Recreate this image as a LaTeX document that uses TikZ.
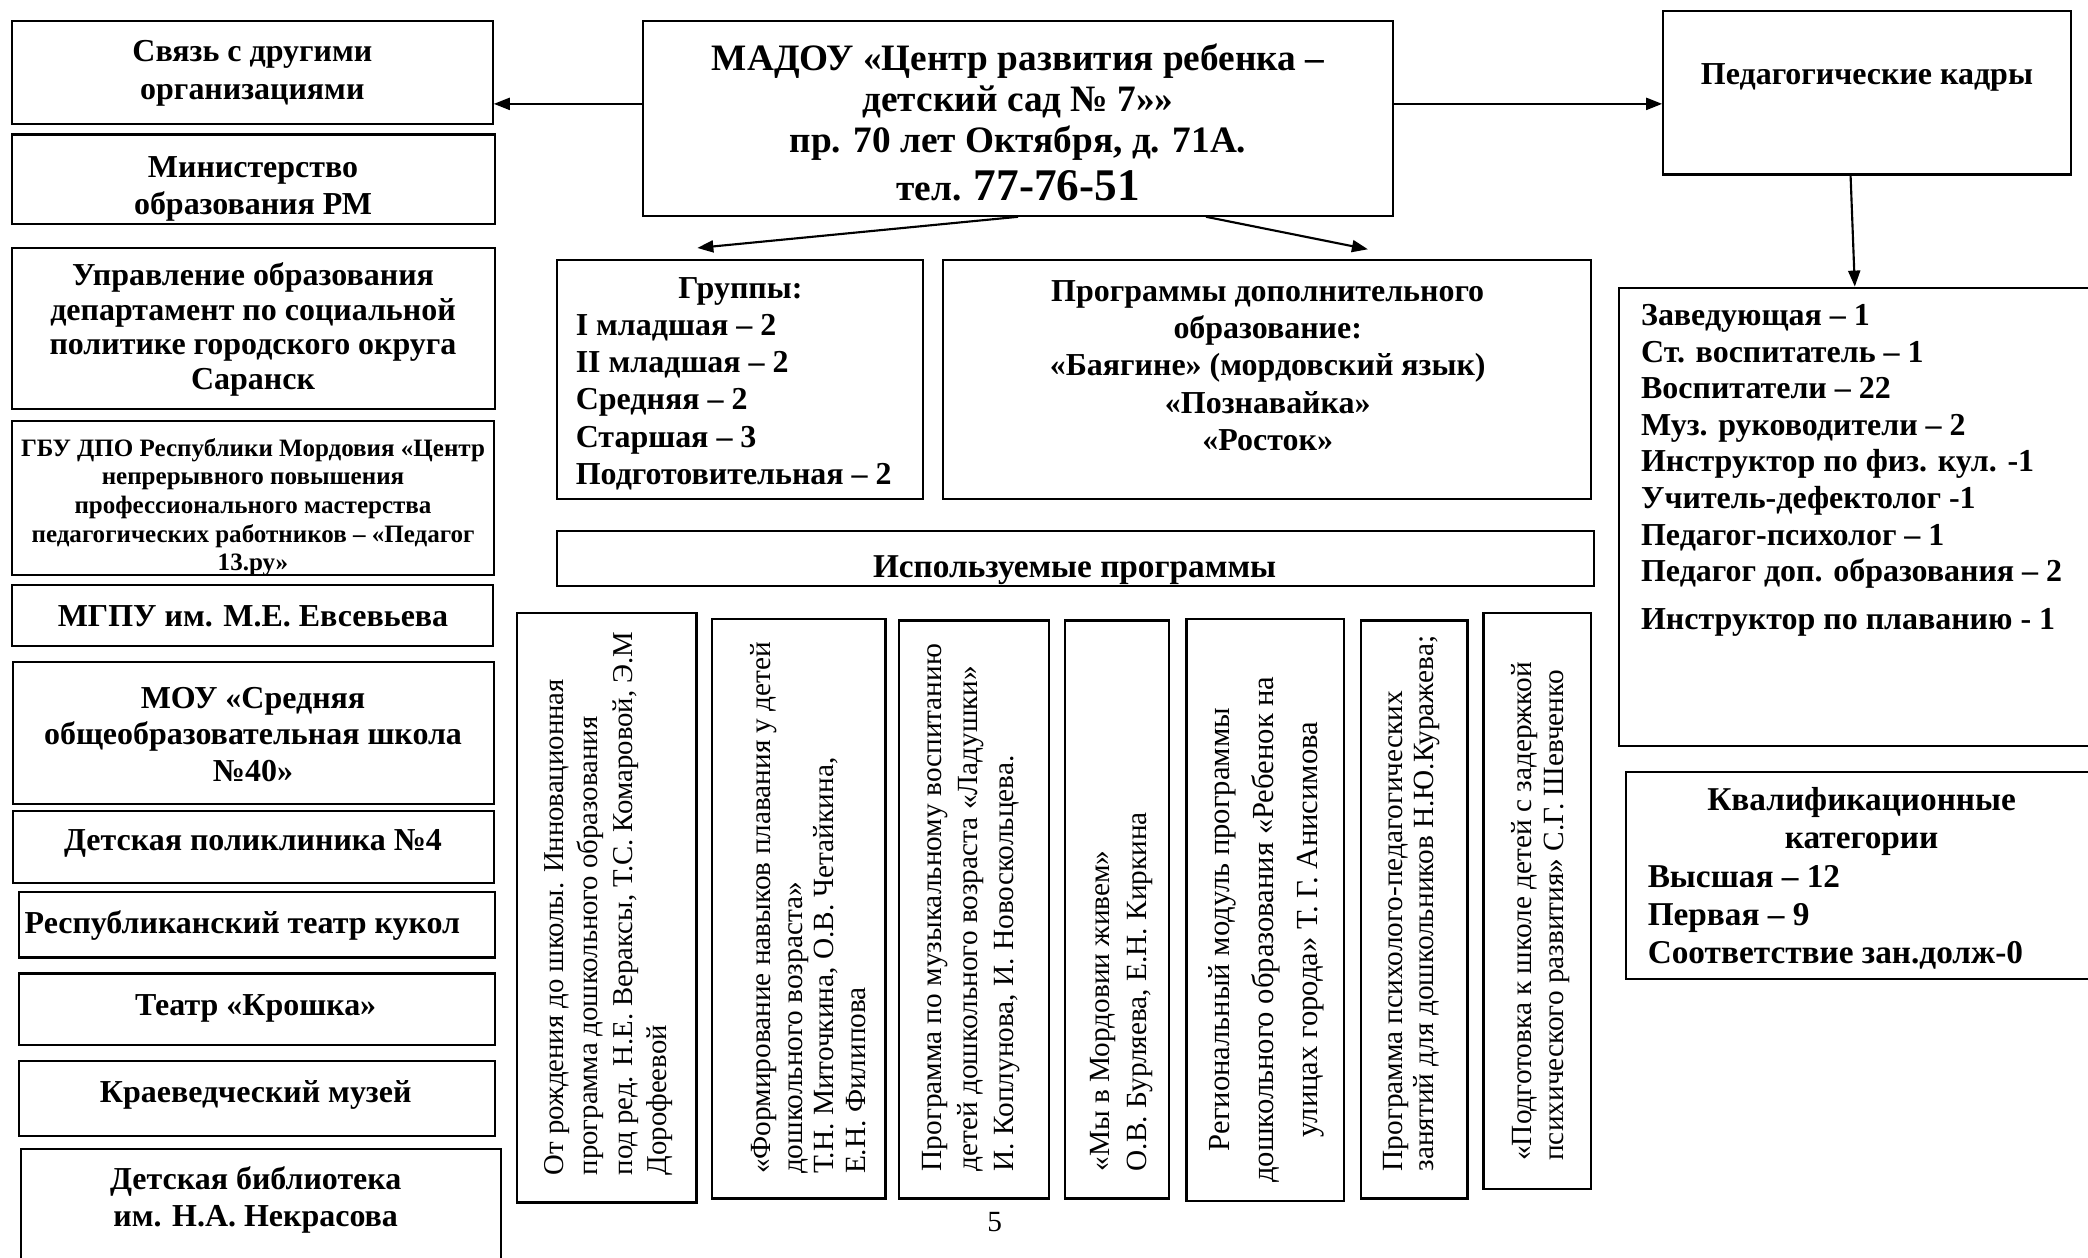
\documentclass[tikz,border=0pt]{standalone}
\usepackage{fontspec}
\setmainfont{Liberation Serif}
\usetikzlibrary{arrows.meta,calc,fit}
\newcommand\fs[2]{\fontsize{#1}{#2}\selectfont}
\newcommand\bx[5]{\node[box, fit={(#2,#3) (#4,#5)}] (#1) {};}
\begin{document}
\begin{tikzpicture}[x=0.5pt,y=-0.5pt,
  box/.style={draw, line width=0.8pt, inner sep=0pt},
  bt/.style={font={\bfseries\fs{12}{14}}, align=center, inner sep=0pt},
  lt/.style={font={\bfseries\fs{12}{14}}, align=left, inner sep=0pt, anchor=west},
  vt/.style={font={\fs{11}{13}}, align=left, inner sep=0pt, rotate=90, anchor=west},
  arr/.style={line width=0.8pt, -{Triangle[length=6pt,width=4.5pt]}}]
\useasboundingbox (0,0) rectangle (1568,944);
\fill[white] (0,0) rectangle (1568,944);

% ---------- left column ----------
\bx{b1}{9}{16}{370}{93}
\node[bt] (t1) at (189.5,55) {Связь с другими\\организациями};
\bx{b2}{9}{101}{372}{168}
\node[bt] (t2) at (190,142) {Министерство\\образования РМ};
\bx{b3}{9}{186}{372}{307}
\node[bt, font={\bfseries\fs{12}{13}}] (t3) at (190,247.5) {Управление образования\\департамент по социальной\\политике городского округа\\Саранск};
\bx{b4}{9}{316}{371}{432}
\begin{scope}
\clip (b4.south west) rectangle (b4.north east);
\node[bt, font={\bfseries\fs{9.4}{10.75}}] (t4) at (190,381) {ГБУ ДПО Республики Мордовия «Центр\\непрерывного повышения\\профессионального мастерства\\педагогических работников – «Педагог\\13.ру»};
\end{scope}
\bx{b5}{9}{439}{370}{485}
\node[bt] (t5) at (190,463) {МГПУ им. М.Е. Евсевьева};
\bx{b6}{10}{497}{371}{604}
\node[bt, font={\bfseries\fs{12}{13.75}}] (t6) at (190,551.5) {МОУ «Средняя\\общеобразовательная школа\\№40»};
\bx{b7}{10}{609}{371}{663}
\node[bt] (t7) at (190,633) {Детская поликлиника №4};
\bx{b8}{14}{670}{372}{719}
\node[bt] (t8) at (182,695) {Республиканский театр кукол};
\bx{b9}{14}{731}{372}{785}
\node[bt] (t9) at (192,757) {Театр «Крошка»};
\bx{b10}{14}{797}{372}{853}
\node[bt] (t10) at (192,822) {Краеведческий музей};
\bx{b11}{16}{863}{376}{960}
\node[bt] (t11) at (192,901) {Детская библиотека\\им. Н.А. Некрасова};

% ---------- centre ----------
\bx{madou}{483}{16}{1046}{162}
\node[bt, font={\bfseries\fs{14}{15.5}}] (tm) at (764.5,92) {МАДОУ «Центр развития ребенка –\\детский сад № 7»»\\пр. 70 лет Октября, д. 71А.\\[2.5pt]тел. {\fs{17}{15.5}77-76-51}};

\bx{groups}{418}{195}{693}{375}
\node[bt] (tg1) at (556,219) {Группы:};
\node[lt] (tg2) at (432,302) {I младшая – 2\\II младшая – 2\\Средняя – 2\\Старшая – 3\\Подготовительная – 2};

\bx{prog}{708}{195}{1195}{375}
\node[bt] (tp) at (952,274.5) {Программы дополнительного\\образование:\\«Баягине» (мордовский язык)\\«Познавайка»\\«Росток»};

\bx{used}{418}{399}{1197}{440}
\begin{scope}
\clip (used.south west) rectangle (used.north east);
\node[font={\bfseries\fs{12.5}{14}}, inner sep=0pt, anchor=base] (tu) at (807,434) {Используемые программы};
\end{scope}

% ---------- right ----------
\bx{ped}{1249}{8}{1555}{131}
\node[bt] (tped) at (1402,58) {Педагогические кадры};

\bx{staff}{1216}{216}{1580}{560}
\node[lt, font={\bfseries\fs{12}{13.75}}] (tst) at (1232,353) {Заведующая – 1\\Ст. воспитатель – 1\\Воспитатели – 22\\Муз. руководители – 2\\Инструктор по физ. кул. -1\\Учитель-дефектолог -1\\Педагог-психолог – 1\\Педагог доп. образования – 2\\[4pt]Инструктор по плаванию - 1};

\bx{kval}{1221}{580}{1580}{735}
\node[bt, font={\bfseries\fs{12.5}{14.25}}] (tk1) at (1398,617) {Квалификационные\\категории};
\node[lt, font={\bfseries\fs{12.5}{14.25}}] (tk2) at (1237,689) {Высшая – 12\\Первая – 9\\Соответствие зан.долж-0};

% ---------- vertical program boxes ----------
\bx{v1}{388}{460}{523}{903}
\node[vt, font={\fs{10.8}{13}}] (tv1) at (457,883) {От рождения до школы. Инновационная\\программа дошкольного образования\\под ред. Н.Е. Вераксы, Т.С. Комаровой, Э.М\\Дорофеевой};
\bx{v2}{535}{465}{665}{900}
\node[vt, font={\fs{11}{11.8}}] (tv2) at (607,882) {«Формирование навыков плавания у детей\\дошкольного возраста»\\Т.Н. Миточкина, О.В. Четайкина,\\Е.Н. Филипова};
\bx{v3}{675}{466}{788}{900}
\node[vt, font={\fs{11}{13.5}}] (tv3) at (729,880) {Программа по музыкальному воспитанию\\детей дошкольного возраста «Ладушки»\\И. Коплунова, И. Новоскольцева.};
\bx{v4}{800}{466}{878}{900}
\node[vt, font={\fs{11}{14}}] (tv4) at (842,880) {«Мы в Мордовии живем»\\О.В. Бурляева, Е.Н. Киркина};
\bx{v5}{891}{465}{1009}{902}
\node[vt, font={\fs{11.5}{16.5}}, align=center, anchor=center] (tv5) at (951,698) {Региональный модуль программы\\дошкольного образования «Ребенок на\\улицах города» Т. Г. Анисимова};
\bx{v6}{1022}{466}{1102}{900}
\node[vt, font={\fs{11}{11.3}}] (tv6) at (1060,880) {Программа психолого-педагогических\\занятий для дошкольников Н.Ю.Куражева;};
\bx{v7}{1114}{460}{1195}{893}
\node[vt, font={\fs{11}{12}}] (tv7) at (1157,872) {«Подготовка к школе детей с задержкой\\психического развития» С.Г. Шевченко};

\node[font={\fs{11}{13}}, inner sep=0pt] (pnum) at (747,918) {5};

% ---------- connectors ----------
\coordinate (yarr) at (0,78);
\draw[arr] (madou.west |- yarr) -- (b1.east |- yarr);
\draw[arr] (madou.east |- yarr) -- (ped.west |- yarr);
\coordinate (gtip) at ($(groups.north west)!0.385!(groups.north east)+(0,-8)$);
\coordinate (ptip) at ($(prog.north west)!0.655!(prog.north east)+(0,-7)$);
\draw[arr] (madou.south) -- (gtip);
\draw[arr] ($(madou.south west)!0.75!(madou.south east)$) -- (ptip);
\draw[arr] ($(ped.south west)!0.46!(ped.south east)$) -- ($(staff.north west)!0.486!(staff.north east)$);
\end{tikzpicture}
\end{document}
